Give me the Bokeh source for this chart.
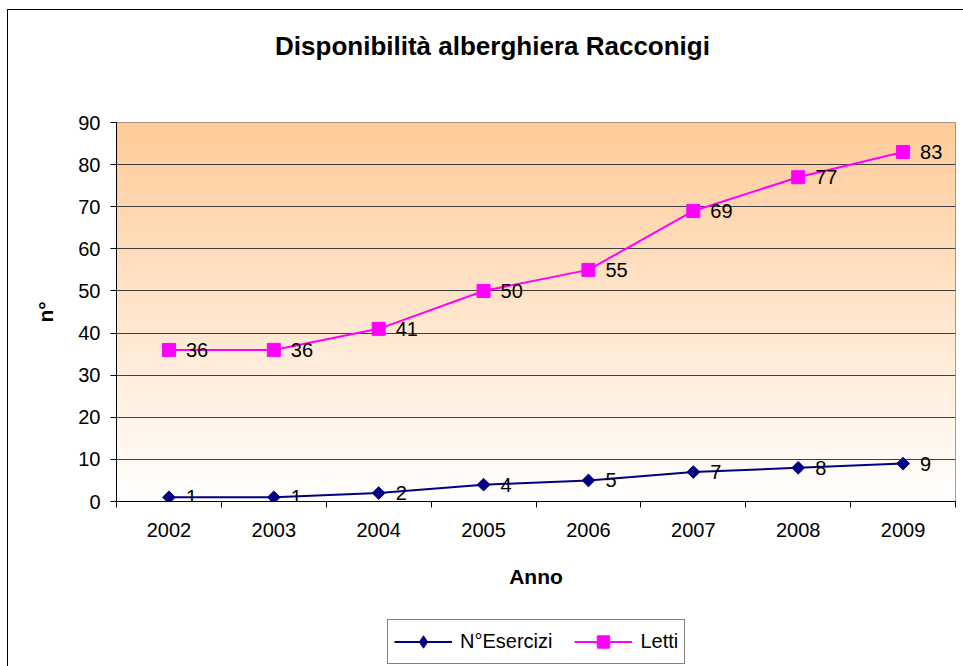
import numpy as np
from bokeh.plotting import figure
from bokeh.layouts import column
from bokeh.models import FixedTicker, Legend, LegendItem, ColumnDataSource, Label
from bokeh.embed import file_html
from bokeh.resources import INLINE

years = ["2002", "2003", "2004", "2005", "2006", "2007", "2008", "2009"]
esercizi = [1, 1, 2, 4, 5, 7, 8, 9]
letti = [36, 36, 41, 50, 55, 69, 77, 83]
y_ticks = [0, 10, 20, 30, 40, 50, 60, 70, 80, 90]
title_text = "Disponibilità alberghiera Racconigi"

FONT = "Liberation Sans"
NAVY = "#000080"
MAGENTA = "#FF00FF"

centers = [i + 0.5 for i in range(len(years))]
bounds = list(range(len(years) + 1))


def strip(height):
    f = figure(width=955, height=height, output_backend="svg", toolbar_location=None,
               x_range=(-1000, -999), y_range=(-1000, -999),
               x_axis_type=None, y_axis_type=None,
               min_border=0, min_border_left=0, min_border_right=0,
               min_border_top=0, min_border_bottom=0)
    f.outline_line_color = None
    f.background_fill_color = "white"
    f.border_fill_color = "white"
    f.xgrid.grid_line_color = None
    f.ygrid.grid_line_color = None
    return f


# title strip
p0 = strip(60)
p0.add_layout(Label(x=376, y=25, x_units="screen", y_units="screen", text=title_text,
                    text_align="center", text_baseline="middle", text_font=FONT,
                    text_font_size="26px", text_font_style="bold", text_color="black"))

p = figure(width=955, height=536, output_backend="svg", toolbar_location=None,
           x_range=(0, len(years)), y_range=(y_ticks[0], y_ticks[-1]),
           min_border_left=108, min_border_right=8, min_border_top=52,
           min_border_bottom=105)
p.background_fill_color = "white"
p.border_fill_color = "white"
p.outline_line_color = "#808080"
p.outline_line_width = 1

# gradient background of plot area
n = 256
t = np.linspace(0, 1, n)[:, None]  # 0 bottom -> 1 top
top = np.array([255, 204, 153])
bot = np.array([255, 255, 255])
cols = (bot + (top - bot) * t).astype(np.uint32)
img = np.empty((n, 1), dtype=np.uint32)
view = img.view(dtype=np.uint8).reshape((n, 1, 4))
view[:, 0, 0] = cols[:, 0]
view[:, 0, 1] = cols[:, 1]
view[:, 0, 2] = cols[:, 2]
view[:, 0, 3] = 255
p.image_rgba(image=[img], x=0, y=y_ticks[0], dw=len(years), dh=y_ticks[-1] - y_ticks[0], level="image")

# grid
p.xgrid.grid_line_color = None
p.ygrid.grid_line_color = "#404040"
p.ygrid.grid_line_width = 1
p.ygrid.ticker = FixedTicker(ticks=y_ticks)

# axes
p.xaxis.ticker = FixedTicker(ticks=centers, minor_ticks=bounds)
p.xaxis.major_label_overrides = {c: y for c, y in zip(centers, years)}
p.xaxis.major_tick_out = 0
p.xaxis.major_tick_in = 0
p.xaxis.minor_tick_out = 6
p.xaxis.minor_tick_in = 0
p.xaxis.minor_tick_line_color = "black"
p.xaxis.major_label_standoff = 15
p.xaxis.axis_label = "Anno"
p.xaxis.axis_label_standoff = 25

p.yaxis.ticker = FixedTicker(ticks=y_ticks)
p.yaxis.major_tick_out = 6
p.yaxis.major_tick_in = 0
p.yaxis.minor_tick_line_color = None
p.yaxis.major_label_standoff = 10
p.yaxis.axis_label = "n°"
p.yaxis.axis_label_standoff = 18

for ax in (p.xaxis[0], p.yaxis[0]):
    ax.axis_line_color = "black"
    ax.major_tick_line_color = "black"
    ax.major_label_text_font = FONT
    ax.major_label_text_font_size = "20px"
    ax.major_label_text_color = "black"
    ax.axis_label_text_font = FONT
    ax.axis_label_text_font_size = "21px"
    ax.axis_label_text_font_style = "bold"
    ax.axis_label_text_color = "black"

src_e = ColumnDataSource(dict(x=centers, y=esercizi, t=[str(v) for v in esercizi]))
src_l = ColumnDataSource(dict(x=centers, y=letti, t=[str(v) for v in letti]))

p.line("x", "y", source=src_e, line_color=NAVY, line_width=2)
p.scatter("x", "y", source=src_e, marker="square", size=9, angle=np.pi / 4,
          fill_color=NAVY, line_color=NAVY)
p.line("x", "y", source=src_l, line_color=MAGENTA, line_width=2)
p.scatter("x", "y", source=src_l, marker="square", size=13,
          fill_color=MAGENTA, line_color=MAGENTA)

for src in (src_e, src_l):
    p.text("x", "y", text="t", source=src, x_offset=17, text_align="left",
           text_baseline="middle", text_font_size="20px", text_color="black",
           text_font={"value": FONT})

# legend strip below the chart (same series, drawn out of view; only the legend shows)
p2 = strip(60)
d1 = p2.line("x", "y", source=src_e, line_color=NAVY, line_width=2)
d1m = p2.scatter("x", "y", source=src_e, marker="diamond", size=14, fill_color=NAVY, line_color=NAVY)
d2 = p2.line("x", "y", source=src_l, line_color=MAGENTA, line_width=2)
d2m = p2.scatter("x", "y", source=src_l, marker="square", size=13, fill_color=MAGENTA, line_color=MAGENTA)

legend = Legend(items=[LegendItem(label="N°Esercizi", renderers=[d1, d1m]),
                       LegendItem(label="Letti", renderers=[d2, d2m])],
                orientation="horizontal", location=(271, 2))
legend.label_text_font = FONT
legend.label_text_font_size = "20px"
legend.label_text_color = "black"
legend.glyph_width = 58
legend.glyph_height = 31
legend.label_height = 31
legend.label_standoff = 8
legend.spacing = 22
legend.padding = 6
legend.margin = 0
legend.border_line_color = "black"
legend.border_line_width = 1
legend.background_fill_color = "white"
legend.background_fill_alpha = 1
p2.add_layout(legend)

layout = column(p0, p, p2, spacing=0,
                styles={"margin-left": "7px", "margin-top": "9px",
                        "border-left": "1px solid #000000", "border-top": "1px solid #000000"})

open("out.html", "w").write(file_html(layout, INLINE))
